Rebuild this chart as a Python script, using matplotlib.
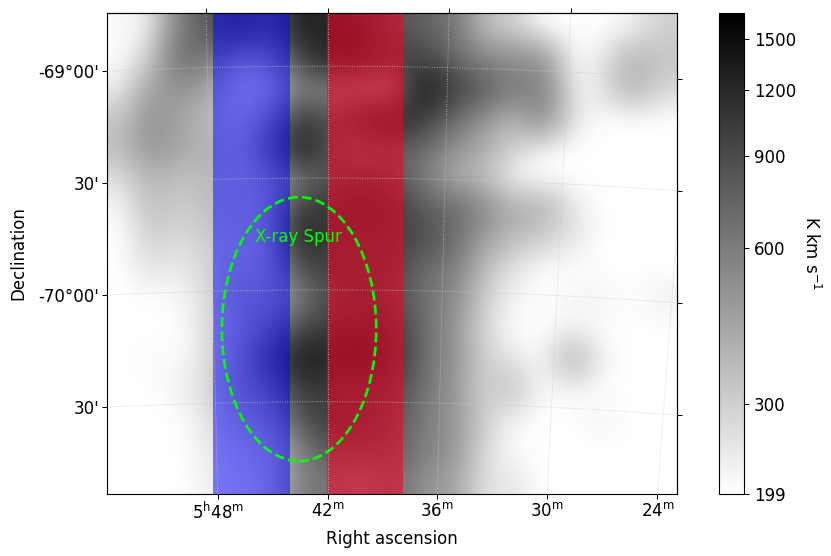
import numpy as np
import matplotlib
matplotlib.use('Agg')
import matplotlib.pyplot as plt
from matplotlib.colors import FuncNorm
from matplotlib.patches import Ellipse

# integrated HI intensity (K km/s), coarse grid, rows top -> bottom
nhi_map = [
    [210, 230, 600, 850, 1000, 750, 1300, 1200, 1100, 850, 750, 650, 350, 300, 199, 199, 199, 220, 300],
    [200, 300, 700, 600, 350, 450, 950, 1300, 1200, 1000, 950, 700, 550, 500, 500, 199, 240, 380, 330],
    [230, 450, 500, 400, 260, 280, 550, 500, 450, 350, 1400, 1000, 800, 600, 600, 220, 250, 400, 280],
    [320, 520, 420, 350, 300, 450, 1050, 800, 1100, 1300, 1000, 700, 500, 350, 550, 250, 199, 199, 199],
    [350, 500, 420, 380, 330, 650, 1350, 800, 650, 750, 700, 500, 400, 300, 210, 199, 199, 199, 199],
    [260, 380, 320, 380, 330, 400, 600, 850, 950, 850, 600, 400, 350, 210, 199, 199, 199, 199, 199],
    [210, 350, 300, 350, 350, 400, 1050, 1050, 1150, 1050, 800, 700, 550, 400, 400, 250, 199, 199, 199],
    [200, 300, 260, 320, 330, 350, 1300, 1000, 1000, 1000, 900, 700, 450, 350, 300, 250, 199, 199, 199],
    [199, 260, 230, 300, 350, 380, 850, 1000, 1000, 950, 700, 600, 350, 250, 199, 199, 199, 199, 199],
    [199, 199, 210, 280, 420, 400, 600, 900, 950, 900, 650, 550, 300, 220, 199, 220, 220, 199, 230],
    [199, 199, 199, 280, 380, 550, 900, 1050, 1150, 1050, 700, 500, 280, 200, 199, 220, 199, 199, 199],
    [199, 210, 199, 280, 400, 850, 1400, 1200, 1250, 1100, 700, 500, 300, 250, 199, 400, 220, 199, 199],
    [199, 199, 230, 280, 450, 550, 1050, 1000, 950, 950, 650, 500, 280, 350, 200, 220, 199, 199, 199],
    [199, 199, 199, 260, 350, 400, 850, 1050, 1000, 850, 600, 500, 300, 220, 199, 199, 220, 199, 199],
    [199, 199, 199, 240, 300, 330, 550, 850, 800, 800, 600, 500, 280, 199, 199, 199, 199, 199, 199],
    [199, 199, 199, 230, 260, 300, 600, 650, 550, 700, 500, 450, 250, 250, 199, 199, 199, 199, 199],
]

# coordinate grid
ra_min = [48, 42, 36, 30, 24]          # minutes after 5h
dec_deg = [-69.0, -69.5, -70.0, -70.5]
ra_labels = [r'$5^\mathrm{h}48^\mathrm{m}$', r'$42^\mathrm{m}$', r'$36^\mathrm{m}$',
             r'$30^\mathrm{m}$', r'$24^\mathrm{m}$']
dec_labels = ["-69°00'", "30'", "-70°00'", "30'"]
cbar_ticks = [199, 300, 600, 900, 1200, 1500]

# velocity-integrated strips, map pixel columns
blue_strip = (105.5, 182.5)
red_strip = (220.0, 296.0)

# X-ray spur ellipse (deg)
spur_ra, spur_dec = 85.875, -70.175
spur_w, spur_h = 0.69, 1.18
label_dec = -69.764

# TAN projection of the map
NX, NY = 570, 481
ra0, dec0 = 85.5, -69.5
crpix = (220.5, 316.0)
pix_per_deg = 223.7


def sky2pix(ra, dec):
    a = np.radians(np.asarray(ra, float) - ra0)
    d = np.radians(np.asarray(dec, float))
    d0 = np.radians(dec0)
    cosc = np.sin(d0) * np.sin(d) + np.cos(d0) * np.cos(d) * np.cos(a)
    xi = np.cos(d) * np.sin(a) / cosc
    eta = (np.cos(d0) * np.sin(d) - np.sin(d0) * np.cos(d) * np.cos(a)) / cosc
    return crpix[0] - np.degrees(xi) * pix_per_deg, crpix[1] + np.degrees(eta) * pix_per_deg


def cross(u, v, c):
    out = []
    for i in range(len(u) - 1):
        if (u[i] - c) * (u[i + 1] - c) < 0:
            t = (c - u[i]) / (u[i + 1] - u[i])
            out.append(v[i] + t * (v[i + 1] - v[i]))
    return out


# display stretch (log)
a_str, vmin, vmax = 7.0, 199.0, 1680.0


def fwd(v):
    x = np.clip((np.asarray(v, float) - vmin) / (vmax - vmin), 0, None)
    return np.log(a_str * x + 1) / np.log(a_str + 1)


def inv(f):
    return vmin + (np.exp(np.asarray(f, float) * np.log(a_str + 1)) - 1) / a_str * (vmax - vmin)


norm = FuncNorm((fwd, inv), vmin=vmin, vmax=vmax)

plt.rcParams['font.family'] = 'DejaVu Sans'
fig = plt.figure(figsize=(8.31, 5.56), dpi=100)
ax = fig.add_axes([107 / 831, 62 / 556, 570 / 831, 481 / 556])

im = ax.imshow(np.array(nhi_map, float), cmap='gray_r', norm=norm, extent=(0, NX, 0, NY),
               origin='upper', interpolation='bicubic', aspect='auto', zorder=0)

ax.axvspan(*blue_strip, color='blue', alpha=0.5, lw=0, zorder=1)
ax.axvspan(*red_strip, color=(1.0, 0.0, 0.15), alpha=0.55, lw=0, zorder=1)

# grid lines + tick positions
bottom_x, bottom_lab, top_x = [], [], []
decs = np.linspace(-71.5, -68.0, 400)
for m, lab in zip(ra_min, ra_labels):
    ra = (5 + m / 60.0) * 15.0
    xs, ys = sky2pix(np.full_like(decs, ra), decs)
    ax.plot(xs, ys, color='0.78', lw=0.6, ls=(0, (1, 2)), zorder=2)
    for xb in cross(ys, xs, 0):
        if 0 <= xb <= NX:
            bottom_x.append(xb)
            bottom_lab.append(lab)
    top_x += [xt for xt in cross(ys, xs, NY) if 0 <= xt <= NX]

left_y, left_lab, right_y = [], [], []
ras = np.linspace(78.0, 92.0, 400)
for d, lab in zip(dec_deg, dec_labels):
    xs, ys = sky2pix(ras, np.full_like(ras, d))
    ax.plot(xs, ys, color='0.78', lw=0.6, ls=(0, (1, 2)), zorder=2)
    for yl in cross(xs, ys, 0):
        if 0 <= yl <= NY:
            left_y.append(yl)
            left_lab.append(lab)
    right_y += [yr for yr in cross(xs, ys, NX) if 0 <= yr <= NY]

# X-ray spur
cx, cy = sky2pix(spur_ra, spur_dec)
ax.add_patch(Ellipse((float(cx), float(cy)), spur_w * pix_per_deg, spur_h * pix_per_deg,
                     fill=False, ec='lime', lw=1.9, ls='--', zorder=3))
tx, ty = sky2pix(spur_ra, label_dec)
ax.text(float(tx), float(ty), 'X-ray Spur', color='lime', fontsize=12,
        ha='center', va='center', zorder=4)

ax.set_xlim(0, NX)
ax.set_ylim(0, NY)
ax.set_xticks(bottom_x, bottom_lab)
ax.set_yticks(left_y, left_lab)
ax.tick_params(direction='out', length=3.5, width=0.7, pad=2, labelsize=12)
ax.set_xlabel('Right ascension', fontsize=12, labelpad=5)
ax.set_ylabel('Declination', fontsize=12, labelpad=8)

top = ax.secondary_xaxis('top')
top.set_xticks(top_x, [''] * len(top_x))
top.tick_params(direction='out', length=3.5, width=0.7)
right = ax.secondary_yaxis('right')
right.set_yticks(right_y, [''] * len(right_y))
right.tick_params(direction='out', length=3.5, width=0.7)

cax = fig.add_axes([719 / 831, 62 / 556, 25 / 831, 481 / 556])
cb = fig.colorbar(im, cax=cax)
cb.set_ticks(cbar_ticks, labels=[str(t) for t in cbar_ticks])
cb.ax.tick_params(labelsize=12, length=3.5, width=0.7)
cb.set_label('K km s$^{-1}$', rotation=270, fontsize=12, labelpad=18)

fig.savefig('out.png', dpi=100)
